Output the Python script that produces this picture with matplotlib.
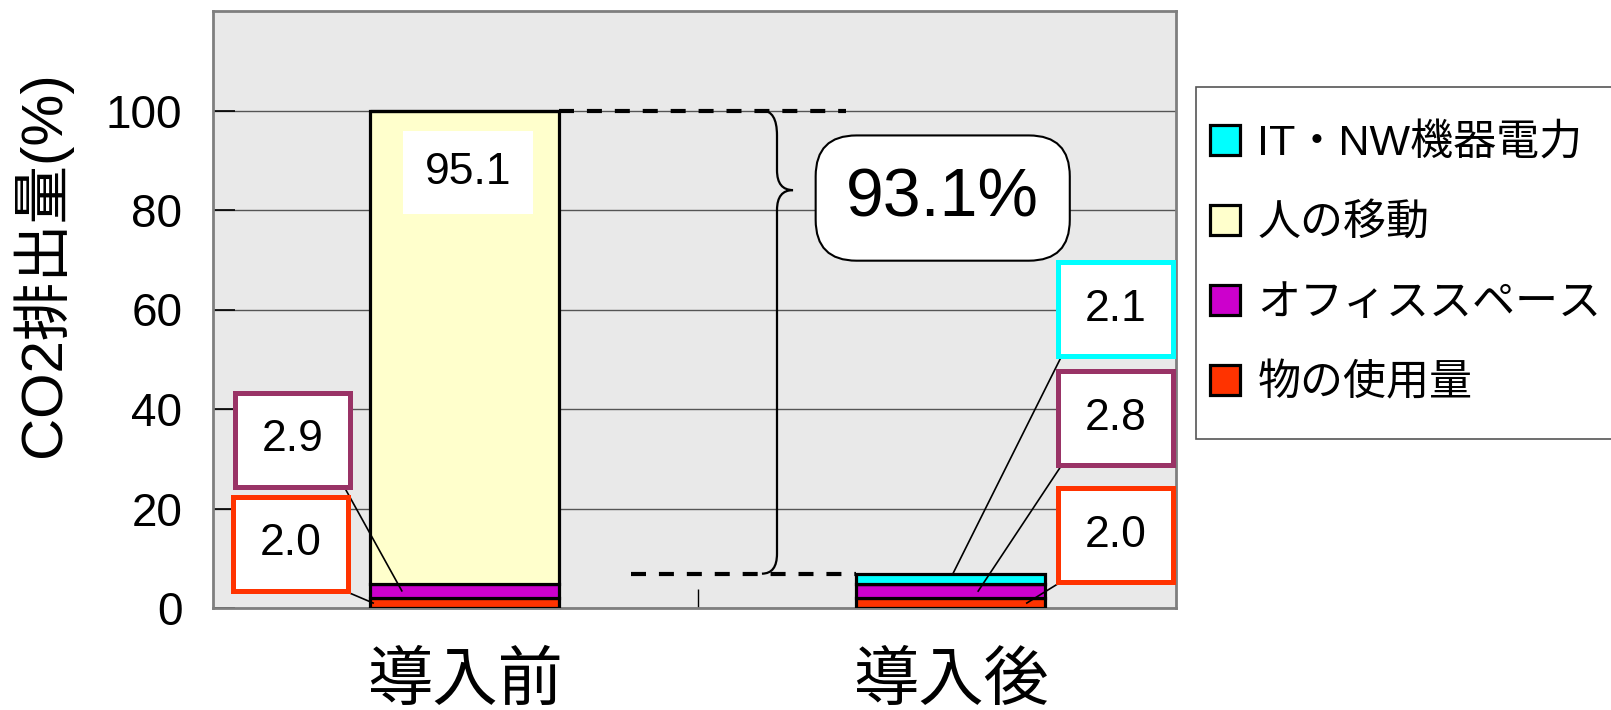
import matplotlib
matplotlib.use("Agg")
import matplotlib.pyplot as plt
from matplotlib.patches import Rectangle, PathPatch
from matplotlib.path import Path

plt.rcParams['font.family'] = ['Liberation Sans', 'Noto Sans CJK JP']

# data (CO2 emission share, %)
categories = ['導入前', '導入後']
series_names = ['物の使用量', 'オフィススペース', '人の移動', 'IT・NW機器電力']
mono = [2.0, 2.0]
office = [2.9, 2.8]
move = [95.1, 0.0]
it_power = [0.0, 2.1]
colors = ['#FF3300', '#CC00CC', '#FFFFCC', '#00FFFF']
yticks = [0, 20, 40, 60, 80, 100]

fig = plt.figure(figsize=(16.11, 7.10), dpi=100)
ax = fig.add_axes([213 / 1611, 1 - 608 / 710, 963 / 1611, 597 / 710])
ax.set_facecolor('#E9E9E9')

x = [0, 1]
bar_w = 0.39
stack = [mono, office, move, it_power]
bottoms = [0.0, 0.0]
containers = []
for vals, name, col in zip(stack, series_names, colors):
    c = ax.bar(x, vals, bar_w, bottom=bottoms, color=col, edgecolor='black',
               linewidth=2.3, label=name, zorder=3)
    containers.append(c)
    bottoms = [b + v for b, v in zip(bottoms, vals)]
totals = bottoms

ax.set_xlim(-0.5175, 1.464)
ax.set_ylim(0, 120)
ax.set_yticks(yticks)
ax.set_xticks(x)
ax.set_xticklabels(categories, fontsize=47)
ax.set_xticks([0.48], minor=True)
ax.tick_params(axis='x', which='major', length=0, pad=32)
ax.tick_params(axis='x', which='minor', direction='in', length=14, width=1, color='black')
ax.tick_params(axis='y', direction='in', length=16, width=1.2, color='black', labelsize=33, pad=22)
ax.grid(axis='y', color='#555555', linewidth=1, zorder=1)
ax.set_axisbelow(True)
for s in ax.spines.values():
    s.set_color('#7f7f7f')
    s.set_linewidth(2)

fig.text(42 / 1611, 1 - 264 / 710, 'CO2排出量(%)', rotation=90, ha='center', va='center', fontsize=42)


def label_box(cx, cy, text, edge, w=0.237, h=18.9, lw=3.6):
    ax.add_patch(Rectangle((cx - w / 2, cy - h / 2), w, h, facecolor='white',
                           edgecolor=edge, linewidth=lw, zorder=5, clip_on=False))
    ax.text(cx, cy, text, ha='center', va='center', fontsize=32, zorder=6)


# value for the big segment
label_box(0.007, 87.5, f'{move[0]:.1f}', 'none', w=0.267, h=16.7, lw=0)

# small segment labels with leader lines
left_boxes = [(-0.354, 33.8, office[0], '#993366', -0.129, mono[0] + office[0] / 2),
              (-0.358, 12.9, mono[0], '#FF3300', -0.188, mono[0] / 2)]
for cx, cy, v, edge, tx, ty in left_boxes:
    label_box(cx, cy, f'{v:.1f}', edge)
    ax.plot([cx + 0.105, tx], [cy - 9.2, ty], color='black', lw=1.2, zorder=4)

right_boxes = [(1.340, 60.1, it_power[1], '#00FFFF', 1.005, totals[1]),
               (1.340, 38.1, office[1], '#993366', 1.057, mono[1] + office[1] / 2),
               (1.340, 14.6, mono[1], '#FF3300', 1.157, mono[1] / 2)]
for cx, cy, v, edge, tx, ty in right_boxes:
    label_box(cx, cy, f'{v:.1f}', edge)
    ax.plot([cx - 0.11, tx], [cy - 9.2, ty], color='black', lw=1.2, zorder=4)

# dashed reference lines
ax.plot([bar_w / 2, 0.785], [totals[0], totals[0]], color='black', lw=3,
        dashes=(3.6, 3.1), zorder=4)
ax.plot([0.343, 1 - bar_w / 2], [totals[1], totals[1]], color='black', lw=3,
        dashes=(3.6, 3.1), zorder=4)

# curly brace between the two totals
top, bot = totals[0], totals[1]
tip = 84.0
verts = [(0.612, top), (0.643, top), (0.643, top - 5),
         (0.643, tip + 4), (0.643, tip), (0.676, tip),
         (0.643, tip), (0.643, tip - 4),
         (0.643, bot + 4), (0.643, bot), (0.612, bot)]
codes = [Path.MOVETO, Path.CURVE3, Path.CURVE3,
         Path.LINETO, Path.CURVE3, Path.CURVE3,
         Path.CURVE3, Path.CURVE3,
         Path.LINETO, Path.CURVE3, Path.CURVE3]
ax.add_patch(PathPatch(Path(verts, codes), facecolor='none', edgecolor='black',
                       lw=1.6, zorder=4))

reduction = top - bot
ax.text(0.984, 82.4, f'{reduction:.1f}%', ha='center', va='center', fontsize=49, zorder=6,
        bbox=dict(boxstyle='round,pad=0.45,rounding_size=0.6', facecolor='white',
                  edgecolor='black', linewidth=1.5))

# legend: frame drawn separately so the entries can sit lower in it
fig.patches.append(Rectangle((1196 / 1611, 1 - 439 / 710), 430 / 1611, 352 / 710,
                             transform=fig.transFigure, facecolor='white',
                             edgecolor='#555555', linewidth=1.2, zorder=0))
handles = containers[::-1]
leg = fig.legend(handles, [h.get_label() for h in handles], loc='upper left',
                 bbox_to_anchor=(1210 / 1611, 1 - 124 / 710), borderaxespad=0,
                 fontsize=31, frameon=False,
                 handlelength=0.7, handleheight=0.7, handletextpad=0.4,
                 labelspacing=0.93, borderpad=0)

fig.savefig('out.png', dpi=100)
